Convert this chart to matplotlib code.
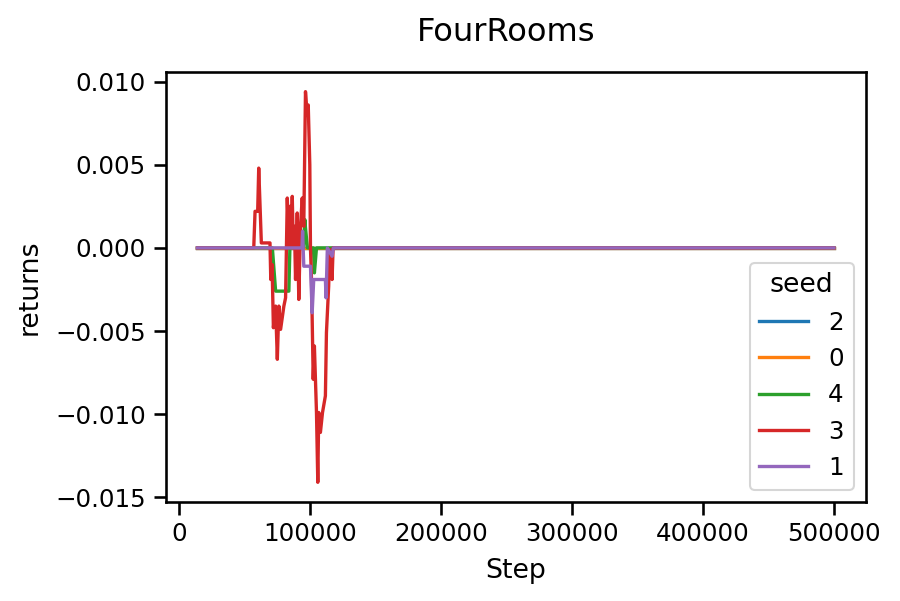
import matplotlib
matplotlib.use("Agg")
import matplotlib.pyplot as plt
import seaborn as sns

sns.set_context("notebook", font_scale=1.07)

# seed order as in the legend
seeds = ["2", "0", "4", "3", "1"]
colors = ["tab:blue", "tab:orange", "tab:green", "tab:red", "tab:purple"]

steps_2 = [14000, 500000]
returns_2 = [0.0, 0.0]

steps_0 = [14000, 500000]
returns_0 = [0.0, 0.0]

steps_4 = [14000, 71200, 73700, 83800, 84600, 95000, 96000, 96500, 98000,
           102600, 103300, 104900, 500000]
returns_4 = [0.0, 0.0, -0.0026, -0.0026, 0.0, 0.0, 0.0017, 0.0012, 0.0,
             0.0, -0.0015, 0.0, 0.0]

steps_3 = [14000, 57000, 58000, 60000, 60800, 62800, 69400, 70000, 71000,
           72000, 73700, 75000, 76200, 77500, 80000, 81300, 82600, 83800,
           84600, 85500, 86400, 87200, 88100, 88900, 90200, 91400, 92700,
           94000, 95200, 96500, 97800, 98600, 99800, 100300, 101100, 102400,
           103300, 104900, 105900, 106600, 107900, 109500, 111700, 112500,
           114200, 115000, 115900, 116800, 117600, 500000]
returns_3 = [0.0, 0.0, 0.0022, 0.0022, 0.0048, 0.0003, 0.0003, -0.0019,
             -0.0010, -0.0048, -0.0035, -0.0067, -0.0035, -0.0049, -0.0035,
             -0.0030, 0.0030, 0.0, 0.0025, 0.0, 0.0031, 0.0, 0.0013, -0.0019,
             0.0021, -0.0031, 0.0013, 0.0030, 0.0013, 0.0094, 0.0080, 0.0086,
             0.0050, 0.0, -0.0019, -0.0079, -0.0059, -0.0099, -0.0141,
             -0.0099, -0.0111, -0.0099, -0.0089, -0.0051, -0.0023, -0.0001,
             -0.0002, -0.0019, 0.0, 0.0]

steps_1 = [14000, 93800, 94300, 95200, 100300, 101600, 102800, 111700,
           112200, 113200, 116800, 117800, 500000]
returns_1 = [0.0, 0.0, 0.001, -0.0011, -0.0011, -0.0039, -0.0019, -0.0019,
             -0.0030, 0.0, -0.0005, 0.0, 0.0]

all_steps = [steps_2, steps_0, steps_4, steps_3, steps_1]
all_returns = [returns_2, returns_0, returns_4, returns_3, returns_1]

fig = plt.figure(figsize=(6, 601 / 150), dpi=150)
ax = fig.add_axes([0.184, 0.165, 0.778, 0.715])

for s, c, x, y in zip(seeds, colors, all_steps, all_returns):
    ax.plot(x, y, color=c, label=s, lw=1.6)

# title sits a bit left of the axes centre in the original
ax.set_title("FourRooms", fontsize=15.4, pad=15, x=0.486)
ax.set_xlabel("Step", labelpad=6)
ax.set_ylabel("returns", labelpad=6)
ax.set_yticks([0.010, 0.005, 0.0, -0.005, -0.010, -0.015])
ax.ticklabel_format(axis="x", style="plain")
ax.legend(title="seed", loc="lower right")

fig.savefig("out.png", dpi=150)
